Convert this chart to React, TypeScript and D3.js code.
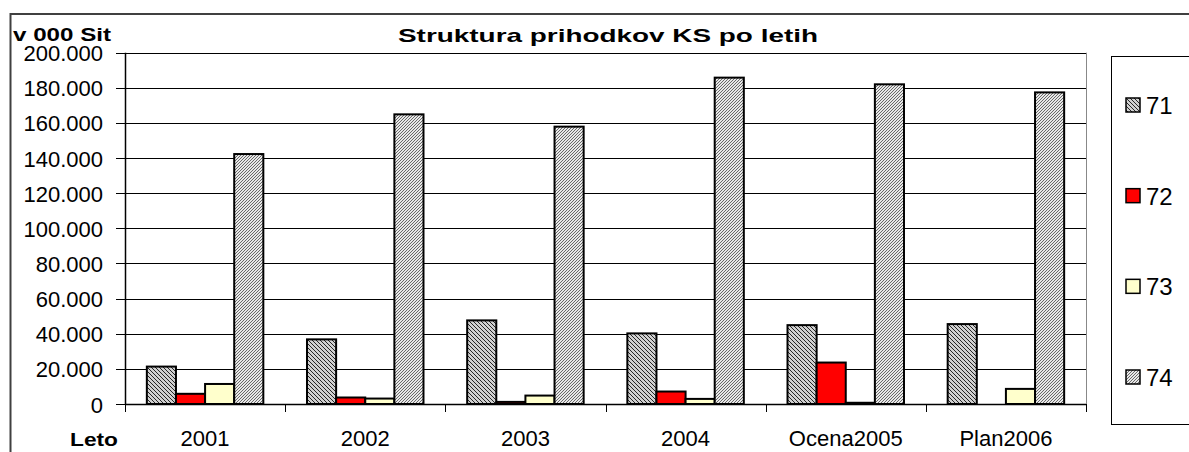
import React from 'react';
import * as d3 from 'd3';

// categories on the x axis (years)
const categories = ['2001', '2002', '2003', '2004', 'Ocena2005', 'Plan2006'];
// series names, shown in the legend
const seriesNames = ['71', '72', '73', '74'];
// values in thousands of SIT, one array per series
const values71 = [21.3, 36.8, 47.6, 40.2, 44.9, 45.5];
const values72 = [5.8, 3.7, 1.2, 7.1, 23.6, 0];
const values73 = [11.4, 3.1, 4.8, 2.9, 0.7, 8.6];
const values74 = [142.3, 164.9, 157.9, 185.8, 182.0, 177.4];
const yTicks = [0, 20, 40, 60, 80, 100, 120, 140, 160, 180, 200];

const seriesValues = [values71, values72, values73, values74];
const fills = ['url(#p71)', '#ff0000', '#ffffcc', 'url(#p74)'];

const W = 1189;
const H = 452;
const font = '"Liberation Sans", Arial, sans-serif';

const plot = { left: 125, right: 1086, top: 52.7, bottom: 404 };

const fmt = d3.formatLocale({ decimal: ',', thousands: '.', grouping: [3], currency: ['', ''] }).format(',');

export default function App() {
  const x = d3.scaleBand<string>().domain(categories).range([plot.left, plot.right]).padding(0);
  const inner = d3.scaleBand<string>()
    .domain(seriesNames)
    .range([0, x.bandwidth()])
    .paddingInner(0)
    .paddingOuter(0.75);
  const y = d3.scaleLinear().domain([0, 200]).range([plot.bottom, plot.top]);

  const legendY = d3.scalePoint<string>().domain(seriesNames).range([105, 377]);

  return (
    <div style={{ position: 'absolute', left: 0, top: 0 }}>
      <svg width={W} height={H} style={{ display: 'block', background: '#fff' }}>
        <defs>
          <pattern id="p71" width={4} height={4} patternUnits="userSpaceOnUse">
            <rect width={4} height={4} fill="#d0d0d0" />
            <path d="M-1,-1 L5,5 M-1,3 L1,5 M3,-1 L5,1" stroke="#262626" strokeWidth={1} />
          </pattern>
          <pattern id="p74" width={3} height={3} patternUnits="userSpaceOnUse">
            <rect width={3} height={3} fill="#e8e8e8" />
            <path d="M-1,4 L4,-1 M-1,1 L1,-1 M2,4 L4,2" stroke="#5a5a5a" strokeWidth={0.9} />
          </pattern>
        </defs>

        {/* outer chart frame */}
        <path d={`M10.5,${H} L10.5,14 L${W},14`} fill="none" stroke="#404040" strokeWidth={2} />

        {/* title and axis titles */}
        <text x={608} y={42} textAnchor="middle" fontFamily={font} fontWeight="bold" fontSize={19}
          textLength={420} lengthAdjust="spacingAndGlyphs">Struktura prihodkov KS po letih</text>
        <text x={13} y={41} fontFamily={font} fontWeight="bold" fontSize={18}
          textLength={98} lengthAdjust="spacingAndGlyphs">v 000 Sit</text>
        <text x={70} y={446} fontFamily={font} fontWeight="bold" fontSize={19}
          textLength={48} lengthAdjust="spacingAndGlyphs">Leto</text>

        {/* gridlines and y ticks */}
        {yTicks.map(t => (
          <g key={t}>
            {t > 0 && (
              <line x1={plot.left} x2={plot.right} y1={Math.round(y(t)) + 0.5} y2={Math.round(y(t)) + 0.5}
                stroke="#000" strokeWidth={1} />
            )}
            <line x1={116} x2={plot.left} y1={Math.round(y(t)) + 0.5} y2={Math.round(y(t)) + 0.5} stroke="#000" />
            <text x={103} y={y(t) + 8.5} textAnchor="end" fontFamily={font} fontSize={22}>{fmt(t * 1000)}</text>
          </g>
        ))}

        {/* plot area right edge */}
        <line x1={plot.right + 0.5} x2={plot.right + 0.5} y1={plot.top} y2={plot.bottom} stroke="#888" />

        {/* bars */}
        {seriesValues.map((vals, si) => (
          <g key={si}>
            {vals.map((v, ci) => {
              if (v <= 0) return null;
              const bx = (x(categories[ci]) as number) + (inner(seriesNames[si]) as number);
              return (
                <rect key={ci} x={bx} y={y(v)} width={inner.bandwidth()} height={y(0) - y(v)}
                  fill={fills[si]} stroke="#000" strokeWidth={2} />
              );
            })}
          </g>
        ))}

        {/* axes lines */}
        <line x1={plot.left + 0.5} x2={plot.left + 0.5} y1={plot.top} y2={plot.bottom} stroke="#000" strokeWidth={1.5} />
        <line x1={plot.left} x2={plot.right} y1={404.5} y2={404.5} stroke="#000" strokeWidth={1.5} />
        {categories.concat(['end']).map((c, i) => {
          const tx = Math.round(plot.left + i * x.step()) + 0.5;
          return <line key={c} x1={tx} x2={tx} y1={404} y2={412} stroke="#000" />;
        })}
        {categories.map(c => (
          <text key={c} x={(x(c) as number) + x.bandwidth() / 2} y={446} textAnchor="middle"
            fontFamily={font} fontSize={22}>{c}</text>
        ))}

        {/* legend */}
        <rect x={1111.5} y={56.5} width={100} height={368} fill="#fff" stroke="#000" strokeWidth={1} />
        {seriesNames.map((s, i) => {
          const ly = legendY(s) as number;
          return (
            <g key={s}>
              <rect x={1126} y={ly - 7} width={14} height={14} fill={fills[i]} stroke="#000" strokeWidth={1.5} />
              <text x={1146} y={ly + 9} fontFamily={font} fontSize={24}>{s}</text>
            </g>
          );
        })}
      </svg>
    </div>
  );
}
